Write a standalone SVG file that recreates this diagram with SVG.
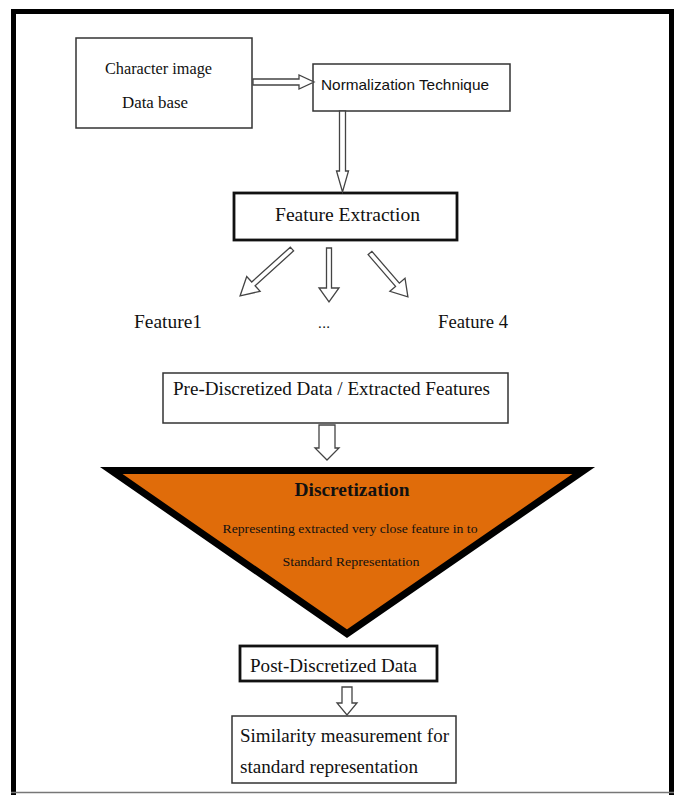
<svg xmlns="http://www.w3.org/2000/svg" width="680" height="795" viewBox="0 0 680 795">
<defs>
<style>
.box{fill:#fff;stroke:#333;stroke-width:1.5}
.tbox{fill:#fff;stroke:#111;stroke-width:2.8}
.ser{font-family:"Liberation Serif","Times New Roman",serif;fill:#111}
.sans{font-family:"Liberation Sans",Arial,sans-serif;fill:#111}
.arr{fill:#fff;stroke:#444;stroke-width:1.3;stroke-linejoin:miter}
</style>
</defs>
<rect width="680" height="795" fill="#fff"/>
<g id="frame">
<path d="M13.5 795 V11.5 H671.5 V795" fill="none" stroke="#000" stroke-width="5"/>
<line x1="11" y1="792.5" x2="674" y2="792.5" stroke="#777" stroke-width="1.5"/>
</g>
<g id="node-character-db">
<rect class="box" x="76" y="38" width="176" height="90"/>
<text class="ser" x="105" y="74" font-size="16" textLength="107" lengthAdjust="spacingAndGlyphs">Character image</text>
<text class="ser" x="122" y="108" font-size="16" textLength="66" lengthAdjust="spacingAndGlyphs">Data base</text>
</g>
<g id="node-normalization">
<rect class="box" x="313" y="64" width="197" height="47"/>
<text class="sans" x="321" y="90" font-size="14.5" textLength="168" lengthAdjust="spacingAndGlyphs">Normalization Technique</text>
</g>
<g id="node-feature-extraction">
<rect class="tbox" x="234" y="193" width="223" height="47"/>
<text class="ser" x="275" y="221" font-size="19" textLength="145" lengthAdjust="spacingAndGlyphs">Feature Extraction</text>
</g>
<g id="node-feature1">
<text class="ser" x="134" y="328" font-size="18" textLength="68" lengthAdjust="spacingAndGlyphs">Feature1</text>
</g>
<g id="node-dots">
<text class="ser" x="318" y="328" font-size="15" textLength="12">...</text>
</g>
<g id="node-feature4">
<text class="ser" x="438" y="328" font-size="18" textLength="70" lengthAdjust="spacingAndGlyphs">Feature 4</text>
</g>
<g id="node-pre-discretized">
<rect class="box" x="163" y="373" width="345" height="50"/>
<text class="ser" x="173" y="395" font-size="18" textLength="317" lengthAdjust="spacingAndGlyphs">Pre-Discretized Data / Extracted Features</text>
</g>
<g id="node-discretization">
<polygon points="111.2,470.5 583.8,470.5 347,633.7" fill="#E06C0A" stroke="#000" stroke-width="7" stroke-linejoin="miter"/>
<text class="ser" x="352" y="496" font-size="19" font-weight="bold" text-anchor="middle" textLength="115" lengthAdjust="spacingAndGlyphs">Discretization</text>
<text class="ser" x="350" y="533" font-size="13" text-anchor="middle" textLength="255" lengthAdjust="spacingAndGlyphs" fill="#1a0e00">Representing extracted very close feature in to</text>
<text class="ser" x="351" y="566" font-size="13" text-anchor="middle" textLength="137" lengthAdjust="spacingAndGlyphs" fill="#1a0e00">Standard Representation</text>
</g>
<g id="node-post-discretized">
<rect class="tbox" x="240" y="646" width="197" height="35"/>
<text class="ser" x="250" y="672" font-size="18" textLength="167" lengthAdjust="spacingAndGlyphs">Post-Discretized Data</text>
</g>
<g id="node-similarity">
<rect class="box" x="232" y="716" width="224" height="67"/>
<text class="ser" x="240" y="742" font-size="18" textLength="209" lengthAdjust="spacingAndGlyphs">Similarity measurement for</text>
<text class="ser" x="240" y="773" font-size="18" textLength="178" lengthAdjust="spacingAndGlyphs">standard representation</text>
</g>
<g id="connectors">
<polygon class="arr" points="253,79 299,79 299,75 314,82 299,89 299,85 253,85"/>
<polygon class="arr" points="339.5,111 345.5,111 345.5,171 348.5,171 342.5,192 336.5,171 339.5,171"/>
<polygon class="arr" transform="translate(292,249) rotate(137.9)" points="0,-2.5 52,-2.5 52,-10 70,0 52,10 52,2.5 0,2.5"/>
<polygon class="arr" transform="translate(329,248) rotate(90)" points="0,-2.5 40,-2.5 40,-10 54,0 40,10 40,2.5 0,2.5"/>
<polygon class="arr" transform="translate(370,253) rotate(49.2)" points="0,-2.5 42,-2.5 42,-10 58,0 42,10 42,2.5 0,2.5"/>
<polygon class="arr" points="319,425 335,425 335,448 339,448 327,460 315,448 319,448"/>
<polygon class="arr" points="342,687 352,687 352,703 357,703 347,715 337,703 342,703"/>
</g>
</svg>
